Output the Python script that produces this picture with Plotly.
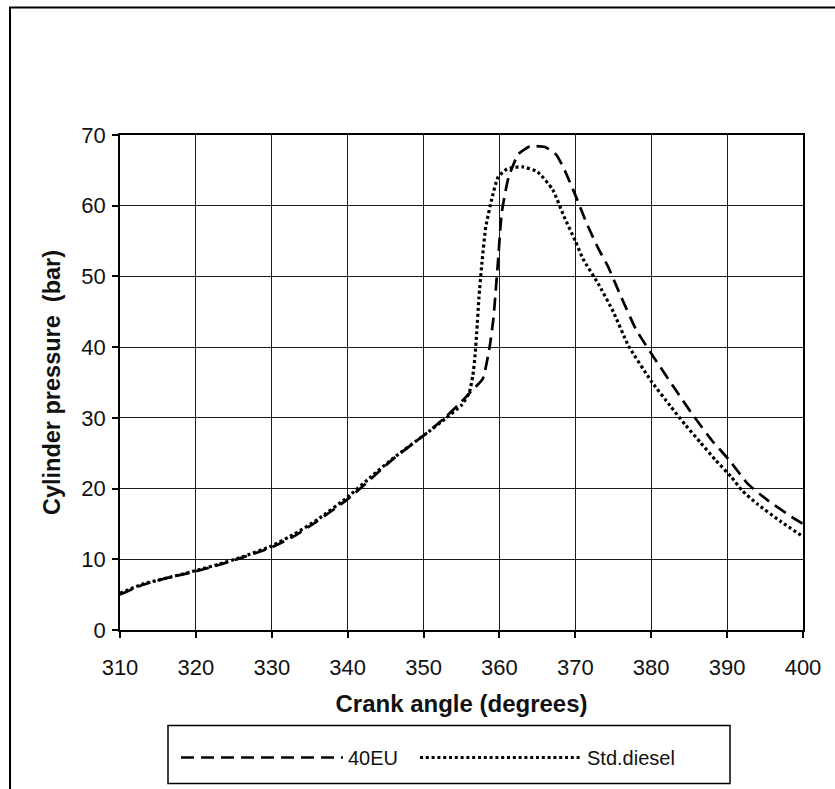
import plotly.graph_objects as go

# Std.diesel (dotted)
diesel_angle = [310, 313, 316, 320, 323, 326, 330, 333, 336, 340, 343, 346, 350, 353, 355,
                356, 356.5, 356.8, 357, 357.3, 357.7, 358.2, 359, 359.8, 361, 363, 365,
                367, 368.5, 370, 371, 373, 375, 377, 380, 382.5, 384.5, 386.5, 388.5,
                390.5, 392, 394, 397, 400]
diesel_pressure = [5.2, 6.5, 7.3, 8.4, 9.3, 10.3, 11.9, 13.6, 15.6, 18.8, 21.6, 24.3, 27.5, 30.0, 31.8,
                   33.5, 36, 39, 42, 47, 52, 57, 61, 64, 65.2, 65.5, 64.8,
                   62.3, 58.5, 55, 52.5, 49, 45, 40.2, 35.2, 31.7, 29, 26.5, 24,
                   21.7, 19.7, 17.8, 15.4, 13.2]

# 40EU (dashed)
eu_angle = [310, 313, 316, 320, 323, 326, 330, 333, 336, 340, 343, 346, 350, 353, 355,
            356.5, 357.8, 358.7, 359.2, 359.8, 360.3, 361.2, 362.5, 364, 366, 367.5,
            368.6, 370, 371.5, 373, 374.3, 376, 378, 380.5, 383.5, 385.5, 388, 390.3,
            392.7, 395.4, 398.5, 400]
eu_pressure = [5.0, 6.4, 7.3, 8.3, 9.2, 10.2, 11.7, 13.3, 15.4, 18.5, 21.3, 24.2, 27.5, 30.2, 32.3,
               34, 35.5, 40, 44, 52, 59, 64, 67.3, 68.4, 68.3, 67.2,
               65, 61.5, 57.5, 54, 51.4, 47.2, 42.5, 38.3, 33.5, 30.4, 26.8, 24,
               20.7, 18.3, 16, 15]

x_ticks = [310, 320, 330, 340, 350, 360, 370, 380, 390, 400]
y_ticks = [0, 10, 20, 30, 40, 50, 60, 70]

W, H = 835, 789
L, R, T, B = 120, 803, 135, 632
pw, ph = R - L, B - T

def px(xp):
    return (xp - L) / pw

def py(yp):
    return (B - yp) / ph

tick_font = dict(family="Liberation Sans, Arial, sans-serif", size=22, color="#111")
xtitle_font = dict(family="Liberation Sans, Arial, sans-serif", size=24, color="#111")
ytitle_font = dict(family="Liberation Sans, Arial, sans-serif", size=23.5, color="#111")

fig = go.Figure()
fig.add_trace(go.Scatter(
    x=eu_angle, y=eu_pressure, name="40EU", mode="lines", legendwidth=62,
    line=dict(color="black", width=2.7, dash="13px,7px", shape="spline", smoothing=0.5),
))
fig.add_trace(go.Scatter(
    x=diesel_angle, y=diesel_pressure, name="Std.diesel", mode="lines", legendwidth=110,
    line=dict(color="black", width=3.2, dash="3px,2.8px", shape="spline", smoothing=0.5),
))

fig.update_layout(
    width=W, height=H,
    margin=dict(l=L, r=W - R, t=T, b=H - B),
    paper_bgcolor="white", plot_bgcolor="white",
    showlegend=True,
    legend=dict(
        orientation="h", x=px(176), xanchor="left", y=py(760), yanchor="middle",
        itemwidth=162, borderwidth=0, bgcolor="rgba(0,0,0,0)",
        font=dict(family="Liberation Sans Narrow, Arial Narrow, Liberation Sans, sans-serif",
                  size=20, color="#111"),
    ),
    xaxis=dict(
        range=[310, 400], tickvals=x_ticks, ticktext=[str(v) for v in x_ticks],
        showgrid=True, gridcolor="#1a1a1a", gridwidth=1.4,
        showline=True, linecolor="black", linewidth=1.5, mirror=True,
        ticks="outside", ticklen=6, tickcolor="black", tickwidth=1.5,
        ticklabelstandoff=11, tickfont=tick_font, zeroline=False,
        title=dict(text="<b>Crank angle (degrees)</b>", font=xtitle_font, standoff=16),
    ),
    yaxis=dict(
        range=[0, 70], tickvals=y_ticks, ticktext=[str(v) for v in y_ticks],
        showgrid=True, gridcolor="#1a1a1a", gridwidth=1.4,
        showline=True, linecolor="black", linewidth=1.5, mirror=True,
        ticks="outside", ticklen=6, tickcolor="black", tickwidth=1.5,
        ticklabelstandoff=2, tickfont=tick_font, zeroline=False,
        title=dict(text="<b>Cylinder pressure  (bar)</b>", font=ytitle_font, standoff=14),
    ),
    shapes=[
        # outer chart frame
        dict(type="rect", xref="paper", yref="paper",
             x0=px(10), x1=px(850), y0=py(820), y1=py(7),
             line=dict(color="black", width=2), fillcolor="rgba(0,0,0,0)", layer="below"),
        # legend box
        dict(type="rect", xref="paper", yref="paper",
             x0=px(168), x1=px(730), y0=py(786), y1=py(728),
             line=dict(color="black", width=1.5), fillcolor="rgba(0,0,0,0)"),
    ],
)

fig.write_html("out.html", config={"displayModeBar": False},
               post_script="document.body.style.margin='0';document.body.style.overflow='hidden';")
